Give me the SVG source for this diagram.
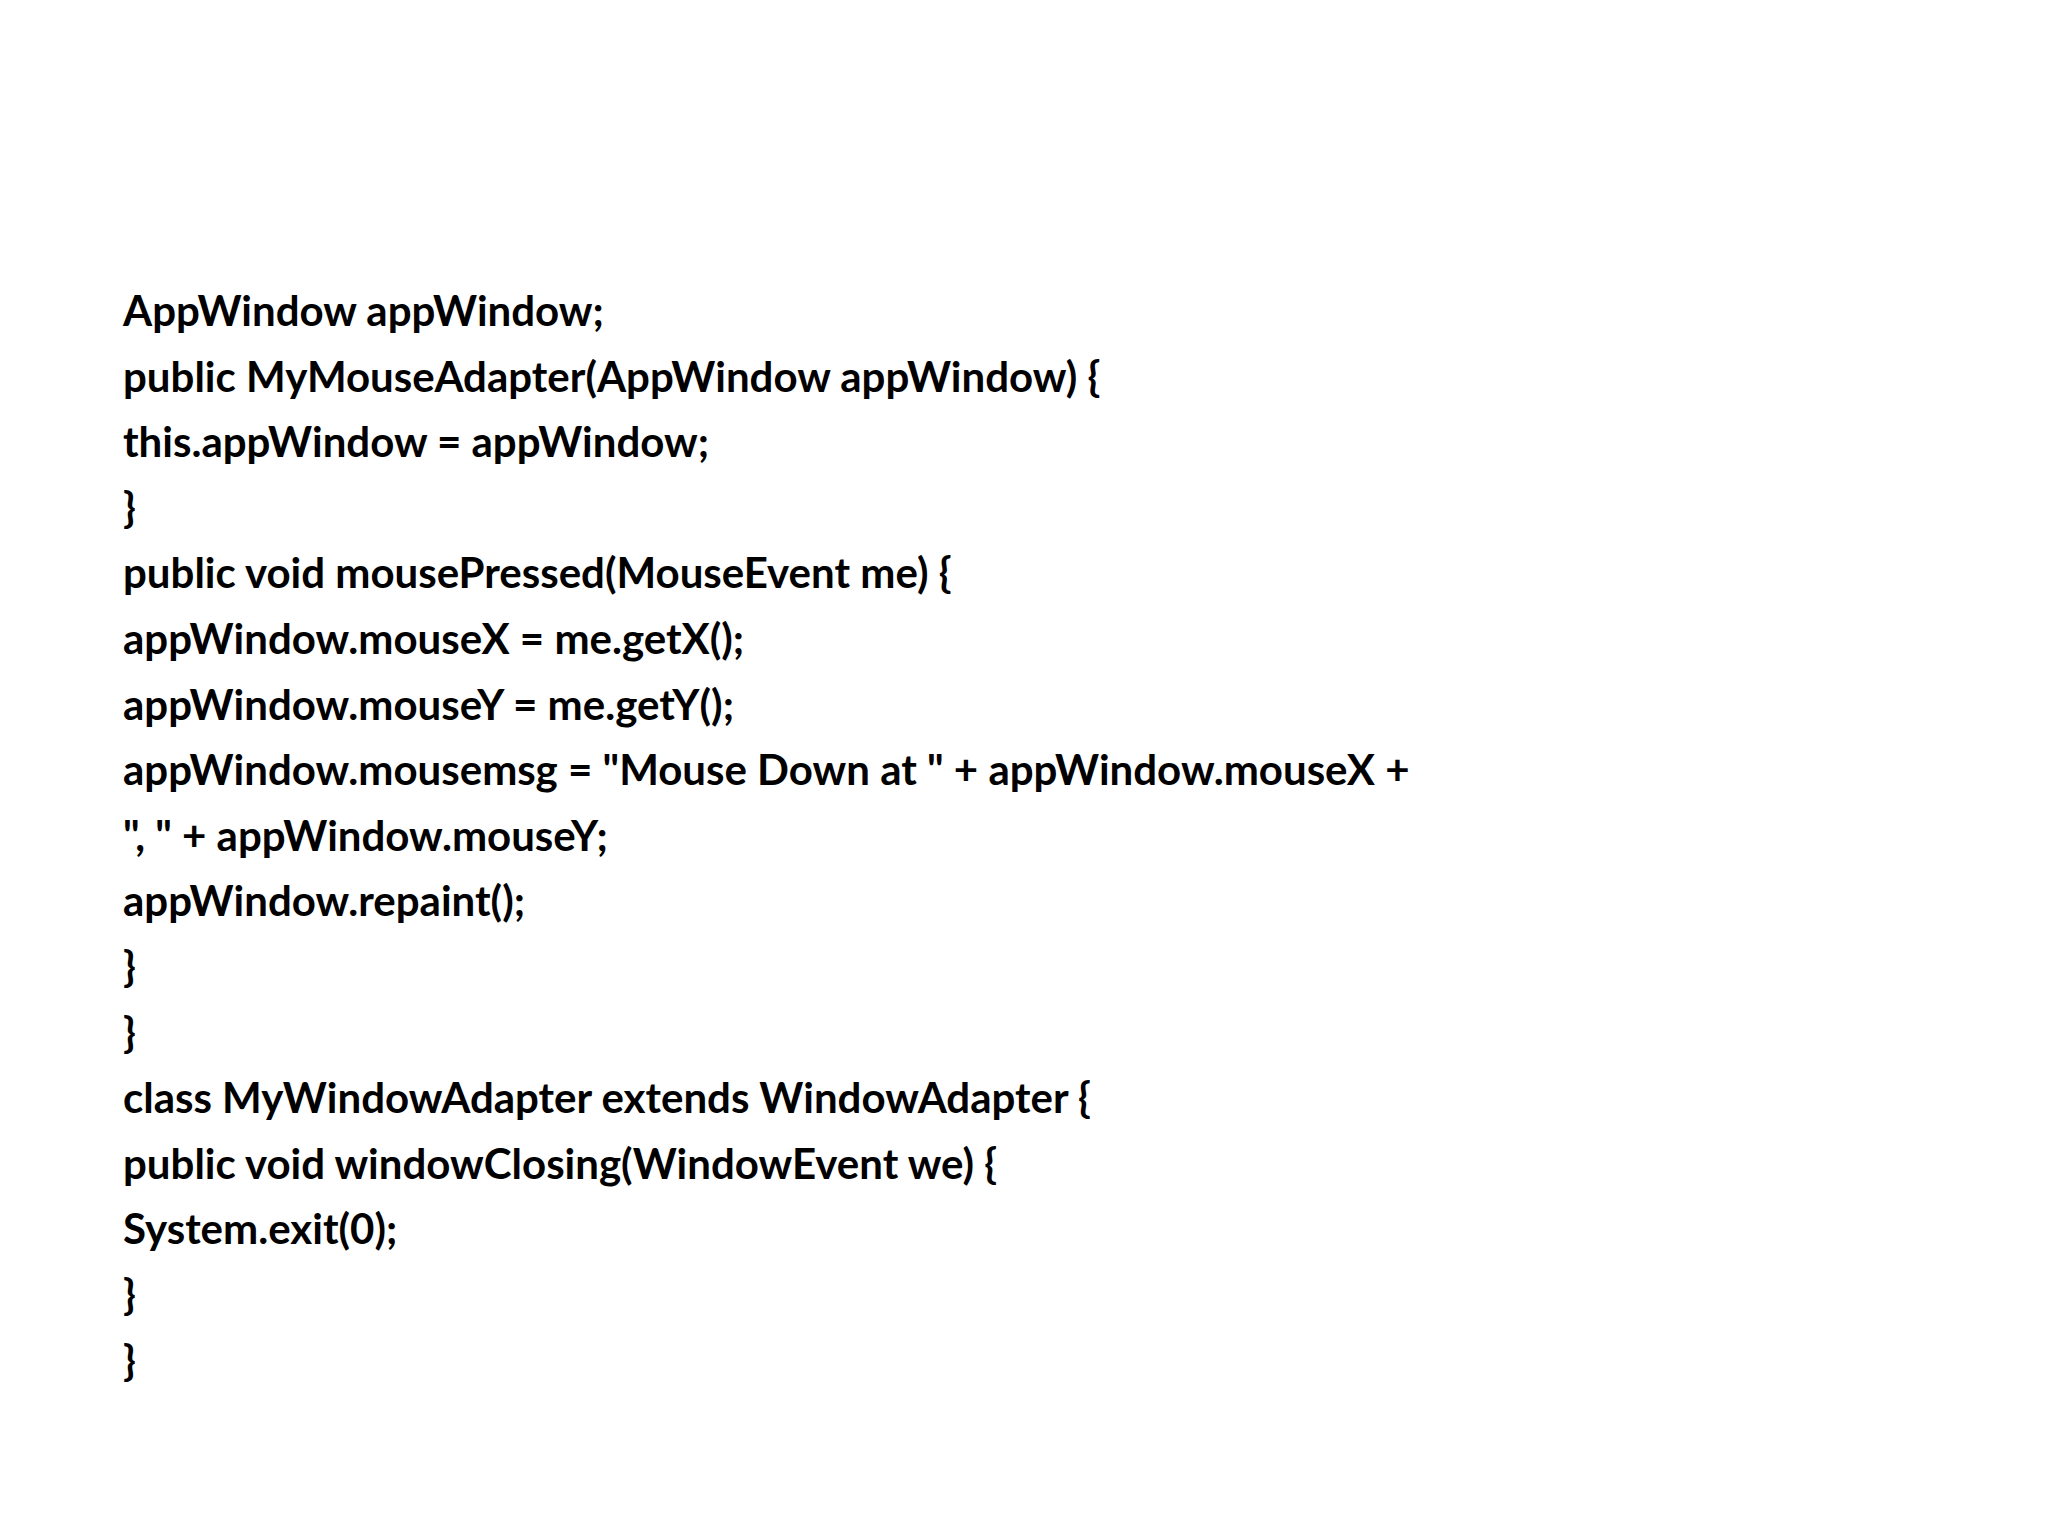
<svg xmlns="http://www.w3.org/2000/svg" width="2048" height="1536" viewBox="0 0 2048 1536">
<style>
text{font-family:Lato,"Open Sans","Liberation Sans",sans-serif;font-weight:bold;font-size:42px;fill:#000}
</style>
<rect width="2048" height="1536" fill="#fff"/>
<g id="code">
<text x="123" y="326">AppWindow appWindow;</text>
<text x="123" y="392">public MyMouseAdapter(AppWindow appWindow) {</text>
<text x="123" y="457">this.appWindow = appWindow;</text>
<text x="123" y="523">}</text>
<text x="123" y="588">public void mousePressed(MouseEvent me) {</text>
<text x="123" y="654">appWindow.mouseX = me.getX();</text>
<text x="123" y="720">appWindow.mouseY = me.getY();</text>
<text x="123" y="785">appWindow.mousemsg = "Mouse Down at " + appWindow.mouseX +</text>
<text x="123" y="851">", " + appWindow.mouseY;</text>
<text x="123" y="916">appWindow.repaint();</text>
<text x="123" y="982">}</text>
<text x="123" y="1048">}</text>
<text x="123" y="1113">class MyWindowAdapter extends WindowAdapter {</text>
<text x="123" y="1179">public void windowClosing(WindowEvent we) {</text>
<text x="123" y="1244">System.exit(0);</text>
<text x="123" y="1310">}</text>
<text x="123" y="1376">}</text>
</g>
</svg>
